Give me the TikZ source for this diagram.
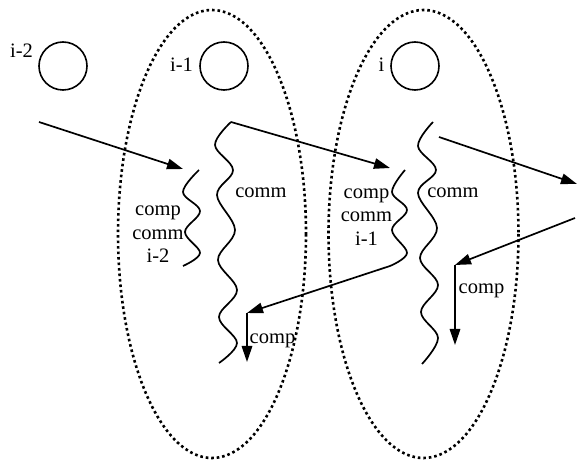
\documentclass[tikz,border=0pt]{standalone}
\usepackage{fontspec}
\setmainfont{Liberation Serif}
\usetikzlibrary{arrows.meta}
\begin{document}
\begin{tikzpicture}[x=1pt,y=-1pt,
  lbl/.style={inner sep=0pt, anchor=base, font=\fontsize{20.5}{24}\selectfont},
  proc/.style={draw, circle, minimum size=48pt, inner sep=0pt, line width=1.6pt},
  grp/.style={line width=2.6pt, dash pattern=on 2.6pt off 2.9pt},
  wave/.style={line width=1.7pt, smooth, tension=0.6},
  msg/.style={line width=1.7pt, -{Triangle[length=16pt,width=10.5pt]}},
  seg/.style={line width=1.7pt}]
\useasboundingbox (0,0) rectangle (579,462);
% groups
\draw[grp] (212,234) ellipse [x radius=94, y radius=224];
\draw[grp] (423.5,234) ellipse [x radius=95, y radius=224];
% processes
\node[proc] (p2) at (63,66) {};
\node[proc] (p1) at (224,66) {};
\node[proc] (p0) at (415,66) {};
\node[lbl] (l2) at (21.5,58) {i-2};
\node[lbl] (l1) at (181.5,72) {i-1};
\node[lbl] (l0) at (381.5,72) {i};
% coordinates
\coordinate (s1) at (39,122);
\coordinate (t1) at (183,169);
\coordinate (w1top) at (231,122);
\coordinate (t2) at (390,168);
\coordinate (s3) at (439,137);
\coordinate (t3) at (577,184);
\coordinate (wi1end) at (390,266);
\coordinate (c4) at (247,313);
\coordinate (e4) at (247,362);
\coordinate (s5) at (575,218);
\coordinate (c5) at (455,265);
\coordinate (e5) at (455,345);
% wavy lines
\draw[wave] plot coordinates {(199,170) (183,192) (200,211) (185,232) (200,253) (183,266)};
\draw[wave] plot coordinates {(405,170) (392,192) (407,210) (392,230) (407,253) (390,266)};
\draw[wave] plot coordinates {(231,122) (215,145) (233,170) (217,195) (235,230) (218,260) (237,290) (219,317) (237,343) (219,363)};
\draw[wave] plot coordinates {(433,122) (418,146) (436,170) (418,193) (437,228) (420,258) (438,285) (421,312) (438,338) (422,364)};
% messages
\draw[msg] (s1) -- (t1);
\draw[msg] (w1top) -- (t2);
\draw[msg] (s3) -- (t3);
\draw[msg] (wi1end) -- (c4);
\draw[msg] (c4) -- (e4);
\draw[msg] (s5) -- (c5);
\draw[msg] (c5) -- (e5);
% labels
\node[lbl] (a1) at (158,216) {comp};
\node[lbl] (a2) at (158,240) {comm};
\node[lbl] (a3) at (158,263) {i-2};
\node[lbl] (b1) at (366.5,199) {comp};
\node[lbl] (b2) at (366.5,222) {comm};
\node[lbl] (b3) at (366.5,245.5) {i-1};
\node[lbl] (c1) at (261,198) {comm};
\node[lbl] (c2) at (453,198) {comm};
\node[lbl] (d1) at (272.5,344) {comp};
\node[lbl] (d2) at (481.5,294) {comp};
\end{tikzpicture}
\end{document}
